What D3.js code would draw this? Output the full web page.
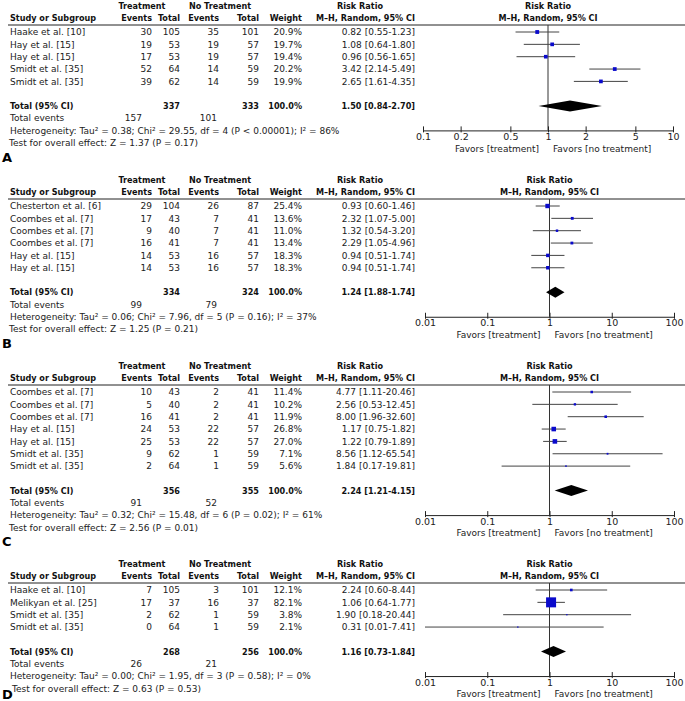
<!DOCTYPE html>
<html><head><meta charset="utf-8">
<script src="https://cdn.jsdelivr.net/npm/d3@7"></script>
<style>
body{margin:0;background:#fff;}
text{font-family:"DejaVu Sans",sans-serif;font-size:9px;fill:#222;}
.b{font-family:"DejaVu Sans Condensed","DejaVu Sans",sans-serif;font-stretch:condensed;font-weight:bold;fill:#111;}
</style>
</head><body>
<svg id="c" width="685" height="701"></svg>
<script>
// ---------------- DATA ----------------
const panelLetters = ["A", "B", "C", "D"];

const studiesA = ["Haake et al. [10]", "Hay et al. [15]", "Hay et al. [15]", "Smidt et al. [35]", "Smidt et al. [35]"];
const trtEventsA = [30, 19, 17, 52, 39];
const trtTotalA  = [105, 53, 53, 64, 62];
const ctlEventsA = [35, 19, 19, 14, 14];
const ctlTotalA  = [101, 57, 57, 59, 59];
const weightA    = [20.9, 19.7, 19.4, 20.2, 19.9];
const rrA        = [0.82, 1.08, 0.96, 3.42, 2.65];
const loA        = [0.55, 0.64, 0.56, 2.14, 1.61];
const hiA        = [1.23, 1.80, 1.65, 5.49, 4.35];

const studiesB = ["Chesterton et al. [6]", "Coombes et al. [7]", "Coombes et al. [7]", "Coombes et al. [7]", "Hay et al. [15]", "Hay et al. [15]"];
const trtEventsB = [29, 17, 9, 16, 14, 14];
const trtTotalB  = [104, 43, 40, 41, 53, 53];
const ctlEventsB = [26, 7, 7, 7, 16, 16];
const ctlTotalB  = [87, 41, 41, 41, 57, 57];
const weightB    = [25.4, 13.6, 11.0, 13.4, 18.3, 18.3];
const rrB        = [0.93, 2.32, 1.32, 2.29, 0.94, 0.94];
const loB        = [0.60, 1.07, 0.54, 1.05, 0.51, 0.51];
const hiB        = [1.46, 5.00, 3.20, 4.96, 1.74, 1.74];

const studiesC = ["Coombes et al. [7]", "Coombes et al. [7]", "Coombes et al. [7]", "Hay et al. [15]", "Hay et al. [15]", "Smidt et al. [35]", "Smidt et al. [35]"];
const trtEventsC = [10, 5, 16, 24, 25, 9, 2];
const trtTotalC  = [43, 40, 41, 53, 53, 62, 64];
const ctlEventsC = [2, 2, 2, 22, 22, 1, 1];
const ctlTotalC  = [41, 41, 41, 57, 57, 59, 59];
const weightC    = [11.4, 10.2, 11.9, 26.8, 27.0, 7.1, 5.6];
const rrC        = [4.77, 2.56, 8.00, 1.17, 1.22, 8.56, 1.84];
const loC        = [1.11, 0.53, 1.96, 0.75, 0.79, 1.12, 0.17];
const hiC        = [20.46, 12.45, 32.60, 1.82, 1.89, 65.54, 19.81];

const studiesD = ["Haake et al. [10]", "Melikyan et al. [25]", "Smidt et al. [35]", "Smidt et al. [35]"];
const trtEventsD = [7, 17, 2, 0];
const trtTotalD  = [105, 37, 62, 64];
const ctlEventsD = [3, 16, 1, 1];
const ctlTotalD  = [101, 37, 59, 59];
const weightD    = [12.1, 82.1, 3.8, 2.1];
const rrD        = [2.24, 1.06, 1.90, 0.31];
const loD        = [0.60, 0.64, 0.18, 0.01];
const hiD        = [8.44, 1.77, 20.44, 7.41];

// pooled results per panel (A, B, C, D)
const totalTrtN     = [337, 334, 356, 268];
const totalCtlN     = [333, 324, 355, 256];
const totalTrtEv    = [157, 99, 91, 26];
const totalCtlEv    = [101, 79, 52, 21];
const totalRR       = [1.50, 1.24, 2.24, 1.16];
const totalLo       = [0.84, 0.88, 1.21, 0.73];
const totalHi       = [2.70, 1.74, 4.15, 1.84];
const totalCiLabels = ["1.50 [0.84-2.70]", "1.24 [1.88-1.74]", "2.24 [1.21-4.15]", "1.16 [0.73-1.84]"];
const heterogeneity = [
  "Heterogeneity: Tau\u00B2 = 0.38; Chi\u00B2 = 29.55, df = 4 (P < 0.00001); I\u00B2 = 86%",
  "Heterogeneity: Tau\u00B2 = 0.06; Chi\u00B2 = 7.96, df = 5 (P = 0.16); I\u00B2 = 37%",
  "Heterogeneity: Tau\u00B2 = 0.32; Chi\u00B2 = 15.48, df = 6 (P = 0.02); I\u00B2 = 61%",
  "Heterogeneity: Tau\u00B2 = 0.00; Chi\u00B2 = 1.95, df = 3 (P = 0.58); I\u00B2 = 0%"
];
const overallTests = [
  "Test for overall effect: Z = 1.37 (P = 0.17)",
  "Test for overall effect: Z = 1.25 (P = 0.21)",
  "Test for overall effect: Z = 2.56 (P = 0.01)",
  "Test for overall effect: Z = 0.63 (P = 0.53)"
];
const ticksA   = [0.1, 0.2, 0.5, 1, 2, 5, 10];
const ticksBCD = [0.01, 0.1, 1, 10, 100];
const domainA   = [0.1, 10];
const domainBCD = [0.01, 100];

// ---------------- LAYOUT ----------------
const panelTops = [6, 180, 366, 564];
const testIndent = [9, 9, 9, 12];
const letterY = [157, 343, 541, 694];
const rowH = 12.35;
const col = {study: 10, te: 152, tt: 180, ce: 219, ct: 259, w: 302, ci: 415, tev: 142, cev: 217};

const panels = [
  {studies: studiesA, te: trtEventsA, tt: trtTotalA, ce: ctlEventsA, ct: ctlTotalA, w: weightA, rr: rrA, lo: loA, hi: hiA, ticks: ticksA, domain: domainA, range: [423, 673]},
  {studies: studiesB, te: trtEventsB, tt: trtTotalB, ce: ctlEventsB, ct: ctlTotalB, w: weightB, rr: rrB, lo: loB, hi: hiB, ticks: ticksBCD, domain: domainBCD, range: [425, 674]},
  {studies: studiesC, te: trtEventsC, tt: trtTotalC, ce: ctlEventsC, ct: ctlTotalC, w: weightC, rr: rrC, lo: loC, hi: hiC, ticks: ticksBCD, domain: domainBCD, range: [425, 674]},
  {studies: studiesD, te: trtEventsD, tt: trtTotalD, ce: ctlEventsD, ct: ctlTotalD, w: weightD, rr: rrD, lo: loD, hi: hiD, ticks: ticksBCD, domain: domainBCD, range: [425, 674]}
];

const svg = d3.select("#c");
const sizeScale = d3.scalePow().exponent(0.7).domain([0, 82.1]).range([0, 10]);
const fmt2 = d => d.toFixed(2);

function txt(g, x, y, s, anchor, cls) {
  return g.append("text").attr("x", x).attr("y", y).attr("dy", "0.35em")
    .attr("text-anchor", anchor || "start").attr("class", cls || null).text(s);
}

panels.forEach((p, k) => {
  const g = svg.append("g");
  const top = panelTops[k];
  const h2 = top + 12, lineY = top + 19, row0 = top + 26;
  const rowY = i => row0 + i * rowH;
  const n = p.studies.length;
  const totY = rowY(n - 1) + 24.5;
  const axisY = totY + 24.5;
  const x = d3.scaleLog().domain(p.domain).range(p.range);
  const xMid = (p.range[0] + p.range[1]) / 2;

  // headers
  txt(g, 142, top, "Treatment", "middle", "b");
  txt(g, 220, top, "No Treatment", "middle", "b");
  txt(g, 360, top, "Risk Ratio", "middle", "b");
  txt(g, xMid, top, "Risk Ratio", "middle", "b");
  txt(g, col.study, h2, "Study or Subgroup", "start", "b");
  txt(g, col.te, h2, "Events", "end", "b");
  txt(g, col.tt, h2, "Total", "end", "b");
  txt(g, col.ce, h2, "Events", "end", "b");
  txt(g, col.ct, h2, "Total", "end", "b");
  txt(g, col.w, h2, "Weight", "end", "b");
  txt(g, col.ci, h2, "M\u2013H, Random, 95% CI", "end", "b");
  txt(g, xMid, h2, "M\u2013H, Random, 95% CI", "middle", "b");
  g.append("line").attr("x1", 8).attr("x2", 685).attr("y1", lineY).attr("y2", lineY)
    .attr("stroke", "#222").attr("stroke-width", 1);

  // study rows
  p.studies.forEach((s, i) => {
    const y = rowY(i);
    txt(g, col.study, y, s);
    txt(g, col.te, y, p.te[i], "end");
    txt(g, col.tt, y, p.tt[i], "end");
    txt(g, col.ce, y, p.ce[i], "end");
    txt(g, col.ct, y, p.ct[i], "end");
    txt(g, col.w, y, p.w[i].toFixed(1) + "%", "end");
    txt(g, col.ci, y, `${fmt2(p.rr[i])} [${fmt2(p.lo[i])}-${fmt2(p.hi[i])}]`, "end");
  });

  // totals
  txt(g, col.study, totY, "Total (95% CI)", "start", "b");
  txt(g, col.tt, totY, totalTrtN[k], "end", "b");
  txt(g, col.ct, totY, totalCtlN[k], "end", "b");
  txt(g, col.w, totY, "100.0%", "end", "b");
  txt(g, col.ci, totY, totalCiLabels[k], "end", "b");
  txt(g, col.study, totY + 12.3, "Total events");
  txt(g, col.tev, totY + 12.3, totalTrtEv[k], "end");
  txt(g, col.cev, totY + 12.3, totalCtlEv[k], "end");
  txt(g, col.study, totY + 24.6, heterogeneity[k]);
  txt(g, testIndent[k], totY + 37, overallTests[k]);

  // panel letter
  g.append("text").attr("x", 2).attr("y", letterY[k]).attr("dy", "0.35em")
    .style("font-size", "13px").style("font-weight", "bold").style("fill", "#000").text(panelLetters[k]);

  // null line
  g.append("line").attr("x1", x(1)).attr("x2", x(1)).attr("y1", lineY).attr("y2", axisY)
    .attr("stroke", "#333").attr("stroke-width", 1);

  // CIs and squares
  p.studies.forEach((s, i) => {
    const y = rowY(i);
    g.append("line").attr("x1", x(Math.max(p.lo[i], p.domain[0]))).attr("x2", x(Math.min(p.hi[i], p.domain[1])))
      .attr("y1", y).attr("y2", y).attr("stroke", "#444").attr("stroke-width", 1);
    const sz = Math.max(1.3, sizeScale(p.w[i]));
    g.append("rect").attr("x", x(p.rr[i]) - sz / 2).attr("y", y - sz / 2)
      .attr("width", sz).attr("height", sz).attr("fill", "#0a0acc");
  });

  // diamond
  const dh = 5.5;
  g.append("path").attr("d", `M${x(totalLo[k])},${totY} L${x(totalRR[k])},${totY - dh} L${x(totalHi[k])},${totY} L${x(totalRR[k])},${totY + dh} Z`)
    .attr("fill", "#000");

  // axis
  const ax = d3.axisBottom(x).tickValues(p.ticks).tickFormat(d => String(d))
    .tickSize(2).tickSizeOuter(0).tickPadding(1);
  const ag = g.append("g").attr("transform", `translate(0,${axisY})`).call(ax);
  ag.select(".domain").attr("stroke", "#222");
  ag.selectAll(".tick line").attr("y1", -4).attr("y2", 2).attr("stroke", "#222");
  ag.selectAll(".tick text").style("font-family", "'DejaVu Sans',sans-serif").style("font-size", "9.5px").attr("fill", "#222");

  txt(g, x(1) - 9, axisY + 18, "Favors [treatment]", "end");
  txt(g, x(1) + 5, axisY + 18, "Favors [no treatment]", "start");
});
</script>
</body></html>
